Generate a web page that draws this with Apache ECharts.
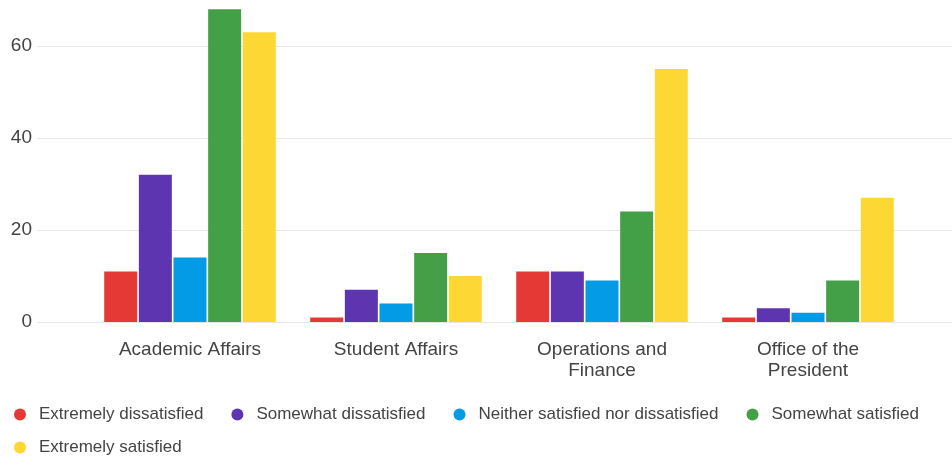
<!DOCTYPE html>
<html lang="en">
<head>
    <meta charset="UTF-8">
    <title>Satisfaction by Division</title>
    <script src="https://cdn.jsdelivr.net/npm/echarts@6/dist/echarts.min.js"></script>
    <style>
        body { margin: 0; background: #fff; }
        #chart { width: 952px; height: 458px; }
    </style>
</head>
<body>
    <div id="chart"></div>
    <script>
        const categories = ['Academic Affairs', 'Student Affairs', 'Operations and\nFinance', 'Office of the\nPresident'];
        const seriesNames = ['Extremely dissatisfied', 'Somewhat dissatisfied', 'Neither satisfied nor dissatisfied', 'Somewhat satisfied', 'Extremely satisfied'];
        const extremelyDissatisfied = [11, 1, 11, 1];
        const somewhatDissatisfied = [32, 7, 11, 3];
        const neither = [14, 4, 9, 2];
        const somewhatSatisfied = [68, 15, 24, 9];
        const extremelySatisfied = [63, 10, 55, 27];
        const colors = ['#e53935', '#5e35b1', '#039be5', '#43a047', '#fdd835'];

        const values = [extremelyDissatisfied, somewhatDissatisfied, neither, somewhatSatisfied, extremelySatisfied];

        const chart = echarts.init(document.getElementById('chart'));
        const font = 'Liberation Sans, Arial, sans-serif';

        const legendBase = {
            left: 9,
            icon: 'circle',
            itemWidth: 26,
            itemHeight: 12,
            itemGap: 28,
            textStyle: { fontSize: 17, color: '#444', padding: [0, 23, 0, 1] }
        };

        const option = {
            color: colors,
            animation: false,
            textStyle: { fontFamily: font },
            // legend wraps after the fourth entry
            legend: [
                Object.assign({}, legendBase, { top: 401, data: seriesNames.slice(0, 4) }),
                Object.assign({}, legendBase, { top: 434, data: seriesNames.slice(4) })
            ],
            // wide grid only for value labels and gridlines
            grid: [
                { left: 37, right: 0, top: 0, height: 322 },
                { left: 87, right: 41, top: 0, height: 322 }
            ],
            xAxis: [
                { gridIndex: 0, type: 'value', show: false },
                {
                    gridIndex: 1,
                    type: 'category',
                    data: categories,
                    axisLine: { show: false },
                    axisTick: { show: false },
                    axisLabel: { fontSize: 19, color: '#444', margin: 17, lineHeight: 21 }
                }
            ],
            yAxis: [
                {
                    gridIndex: 0,
                    type: 'value',
                    min: 0,
                    max: 70,
                    interval: 20,
                    axisLine: { show: false },
                    axisTick: { show: false },
                    axisLabel: { fontSize: 19, color: '#444', margin: 5, showMaxLabel: false },
                    splitLine: { showMaxLine: false, lineStyle: { color: '#e6e6e6' } }
                },
                { gridIndex: 1, type: 'value', min: 0, max: 70, show: false }
            ],
            series: seriesNames.map((name, i) => ({
                name: name,
                type: 'bar',
                xAxisIndex: 1,
                yAxisIndex: 1,
                barGap: '5%',
                barCategoryGap: '16.7%',
                data: values[i]
            }))
        };

        chart.setOption(option);
    </script>
</body>
</html>
